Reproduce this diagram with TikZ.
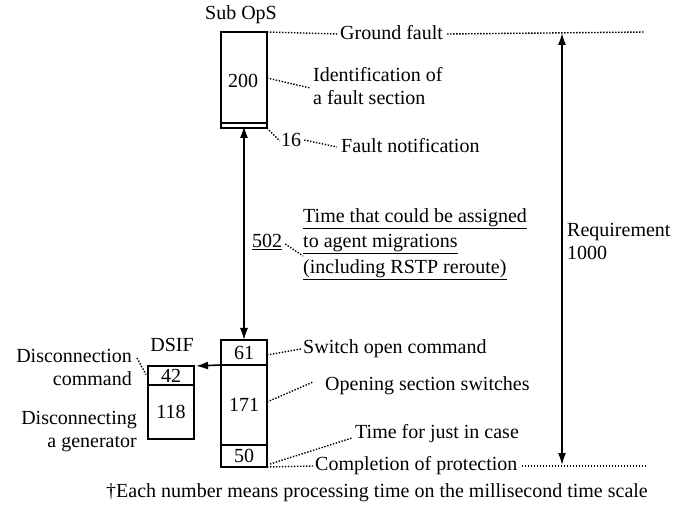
\documentclass[tikz,border=0pt]{standalone}
\usepackage{fontspec}
\setmainfont{Liberation Serif}
\usetikzlibrary{arrows.meta}
\begin{document}
\begin{tikzpicture}[x=1pt,y=-1pt,
  font=\fontsize{20}{23}\selectfont,
  seg/.style={draw,line width=2.1pt,minimum width=46pt,inner sep=0pt,outer sep=0pt},
  lbl/.style={inner sep=0pt,anchor=west},
  dots/.style={line width=1.4pt,dash pattern=on 1.4pt off 1.6pt},
  arr/.style={line width=1.6pt,-{Latex[length=12pt,width=8pt]}},
  darr/.style={line width=1.6pt,{Latex[length=12pt,width=8pt]}-{Latex[length=12pt,width=8pt]}}]
\useasboundingbox (0,0) rectangle (689,513);

% Sub OpS column
\node[seg,minimum height=91pt] (s200) at (244,77.5) {};
\node[inner sep=0pt] (n200) at (243,81) {200};
\node[seg,minimum height=5pt,line width=1.4pt] (s16) at (244,125.5) {};
\node[inner sep=0pt] (subops) at (241,15) {Sub OpS};

% Protection column
\node[seg,minimum height=25pt] (s61) at (244,352.5) {61};
\node[seg,minimum height=80pt] (s171) at (244,405) {171};
\node[seg,minimum height=22pt] (s50) at (244,456) {50};

% DSIF column
\node[seg,minimum height=19pt] (d42) at (171,375.5) {42};
\node[seg,minimum height=54pt] (d118) at (171,412) {118};
\node[inner sep=0pt] (dsif) at (172,345) {DSIF};

% Labels
\node[lbl] (ground) at (340,33) {Ground fault};
\node[lbl,align=left] (ident) at (313,86) {Identification of\\a fault section};
\node[inner sep=0pt] (n16) at (291,140) {16};
\node[lbl] (notif) at (341,146) {Fault notification};
\node[inner sep=0pt] (n502) at (267,242) {\underline{502}};
\node[lbl,align=left,font=\fontsize{20}{25.5}\selectfont] (migr) at (303,244)
  {\underline{Time that could be assigned}\\\underline{to agent migrations}\\\underline{(including RSTP reroute)}};
\node[lbl,align=left] (req) at (567,241) {Requirement\\1000};
\node[lbl] (swopen) at (303,349) {Switch open command};
\node[lbl] (opening) at (325,386) {Opening section switches};
\node[lbl] (justin) at (355,434) {Time for just in case};
\node[lbl] (complete) at (315,466) {Completion of protection};
\node[inner sep=0pt,anchor=east,align=right] (disccmd) at (132,367) {Disconnection\\command};
\node[inner sep=0pt,anchor=east,align=right] (discgen) at (137,432) {Disconnecting\\a generator};
\node[inner sep=0pt] (note) at (377,493) {\textdagger Each number means processing time on the millisecond time scale};

% End points of the timing lines
\coordinate (gfend) at (645,32);
\coordinate (cpend) at (645,466);
\coordinate (reqtop) at (562,33);
\coordinate (reqbot) at (562,465);

% Dotted leaders
\draw[dots] (s200.north east) -- ([xshift=-2pt,yshift=-1pt]ground.west);
\draw[dots] ([xshift=4pt,yshift=-1pt]ground.east) -- (gfend);
\draw[dots] ([yshift=-0.5pt]s200.east) -- ([xshift=-3pt,yshift=-2pt]ident.west);
\draw[dots] (s16.south east) -- ([xshift=-1pt,yshift=-1pt]n16.west);
\draw[dots] ([xshift=3pt]n16.east) -- ([xshift=-4pt,yshift=-1pt]notif.west);
\draw[dots] ([xshift=3pt,yshift=-2pt]n502.east) -- ([yshift=-12pt]migr.west);
\draw[dots] ([yshift=-2.5pt]s61.east) -- ([xshift=-2pt]swopen.west);
\draw[dots] ([yshift=3pt]s171.east) -- ([xshift=-12pt,yshift=4pt]opening.west);
\draw[dots] ([xshift=3pt,yshift=-8pt]s50.east) -- ([xshift=-3pt,yshift=-4pt]justin.west);
\draw[dots] (s50.south east) -- ([xshift=-2pt]complete.west);
\draw[dots] ([xshift=4pt]complete.east) -- (cpend);
\draw[dots] ([xshift=5pt,yshift=9pt]disccmd.east) -- ([xshift=-2pt,yshift=1pt]d42.west);

% Arrows
\draw[darr] ([yshift=2pt]s16.south) -- (s61.north);
\draw[arr] (s61.south west) -- ([xshift=2pt]d42.north east);
\draw[darr] (reqtop) -- (reqbot);
\end{tikzpicture}
\end{document}
